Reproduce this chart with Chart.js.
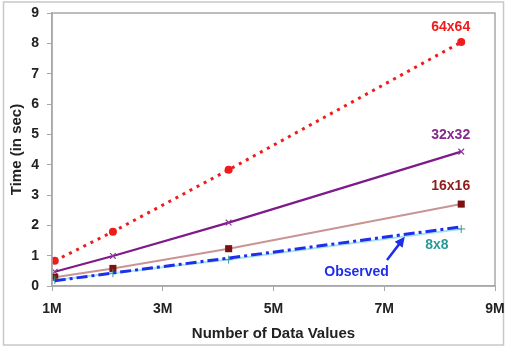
<!DOCTYPE html>
<html><head><meta charset="utf-8">
<script src="https://cdn.jsdelivr.net/npm/chart.js@4/dist/chart.umd.min.js"></script>
<style>html,body{margin:0;padding:0;background:#fff}#wrap{width:506px;height:349px}</style>
</head><body><div id="wrap"><canvas id="c" width="506" height="349"></canvas></div>
<script>
const dataSizesM = [1.05, 2.1, 4.19, 8.39];
const time64 = [0.83, 1.79, 3.83, 8.04];
const time32 = [0.47, 0.99, 2.09, 4.43];
const time16 = [0.29, 0.58, 1.23, 2.70];
const time8 = [0.20, 0.42, 0.87, 1.88];
const timeObserved = [0.17, 0.43, 0.92, 1.95];
const xTickLabels = ["1M", "3M", "5M", "7M", "9M"];
const xTickValues = [1, 3, 5, 7, 9];
const seriesNames = ["64x64", "32x32", "16x16", "8x8", "Observed"];

const pts = arr => arr.map((v, i) => ({x: dataSizesM[i], y: v}));
const FONT = "'Liberation Sans', Arial, sans-serif";

const labelPlugin = {
  id: 'labels',
  beforeDraw(chart) {
    const ctx = chart.ctx;
    ctx.save();
    ctx.fillStyle = '#fff';
    ctx.fillRect(0, 0, chart.width, chart.height);
    ctx.strokeStyle = '#c8c8c8';
    ctx.lineWidth = 1.5;
    ctx.strokeRect(3.5, 2, 500, 343);
    ctx.restore();
  },
  afterDatasetsDraw(chart) {
    const ctx = chart.ctx, xs = chart.scales.x, ys = chart.scales.y;
    const a = chart.chartArea;
    ctx.save();
    ctx.strokeStyle = '#a8a8a8';
    ctx.lineWidth = 1.5;
    ctx.strokeRect(a.left, a.top, a.right - a.left, a.bottom - a.top);
    const labels = [
      {t: seriesNames[0], x: 8.2, y: 8.55, c: '#f01c1c'},
      {t: seriesNames[1], x: 8.2, y: 4.98, c: '#862a8c'},
      {t: seriesNames[2], x: 8.2, y: 3.3, c: '#8e1c1c'},
      {t: seriesNames[3], x: 7.95, y: 1.35, c: '#2a9a96'},
      {t: seriesNames[4], x: 6.5, y: 0.46, c: '#1f2ee8'}
    ];
    ctx.font = "bold 14px " + FONT;
    ctx.textAlign = 'center';
    ctx.textBaseline = 'middle';
    labels.forEach(l => {
      ctx.fillStyle = l.c;
      ctx.fillText(l.t, xs.getPixelForValue(l.x), ys.getPixelForValue(l.y));
    });
    // arrow
    const x0 = xs.getPixelForValue(7.05), y0 = ys.getPixelForValue(0.86);
    const x1 = xs.getPixelForValue(7.37), y1 = ys.getPixelForValue(1.62);
    const ang = Math.atan2(y1 - y0, x1 - x0);
    ctx.strokeStyle = '#1f2ee8';
    ctx.fillStyle = '#1f2ee8';
    ctx.lineWidth = 2.5;
    ctx.beginPath();
    ctx.moveTo(x0, y0);
    ctx.lineTo(x1 - 6 * Math.cos(ang), y1 - 6 * Math.sin(ang));
    ctx.stroke();
    ctx.beginPath();
    ctx.moveTo(x1, y1);
    ctx.lineTo(x1 - 10 * Math.cos(ang) + 5 * Math.sin(ang), y1 - 10 * Math.sin(ang) - 5 * Math.cos(ang));
    ctx.lineTo(x1 - 10 * Math.cos(ang) - 5 * Math.sin(ang), y1 - 10 * Math.sin(ang) + 5 * Math.cos(ang));
    ctx.closePath();
    ctx.fill();
    ctx.restore();
  }
};

new Chart(document.getElementById('c'), {
  type: 'scatter',
  data: {
    datasets: [
      {label: seriesNames[4], data: pts(timeObserved), showLine: true, borderColor: '#1f2ee8', borderWidth: 3, borderDash: [11, 4, 3, 4], pointRadius: 0, order: 0},
      {label: seriesNames[3], data: pts(time8), showLine: true, borderColor: '#a6e4f2', borderWidth: 2, pointStyle: 'cross', pointRadius: 4, pointBorderColor: '#3a9a9a', pointBorderWidth: 1, order: 1},
      {label: seriesNames[2], data: pts(time16), showLine: true, borderColor: '#c99494', borderWidth: 2, pointStyle: 'rect', pointRadius: 5, pointBackgroundColor: '#7e1010', pointBorderColor: '#7e1010', pointBorderWidth: 0, order: 2},
      {label: seriesNames[1], data: pts(time32), showLine: true, borderColor: '#7e1a8a', borderWidth: 2.2, pointStyle: 'crossRot', pointRadius: 4, pointBorderColor: '#8e3a9a', pointBorderWidth: 1.2, order: 3},
      {label: seriesNames[0], data: pts(time64), showLine: true, borderColor: '#f01c1c', borderWidth: 3, borderDash: [3, 5], pointStyle: 'circle', pointRadius: 4, pointBackgroundColor: '#f01c1c', pointBorderColor: '#f01c1c', pointBorderWidth: 0, order: 4}
    ]
  },
  options: {
    responsive: false,
    animation: false,
    devicePixelRatio: 1,
    layout: {padding: {left: 4, right: 11, top: 13, bottom: 4}},
    plugins: {legend: {display: false}, tooltip: {enabled: false}},
    scales: {
      x: {
        type: 'linear', min: 1, max: 9,
        afterBuildTicks: s => { s.ticks = xTickValues.map(v => ({value: v})); },
        afterFit: s => { s.height = 59; s.paddingLeft = 0; s.paddingRight = 0; },
        ticks: {
          callback: (v) => xTickLabels[xTickValues.indexOf(v)],
          font: {family: FONT, size: 14, weight: 'bold'}, color: '#222', padding: 10, maxRotation: 0
        },
        grid: {display: true, drawOnChartArea: false, tickLength: 5, color: '#a8a8a8', lineWidth: 1},
        border: {display: true, color: '#a8a8a8', width: 1.5},
        title: {display: true, text: 'Number of Data Values', font: {family: FONT, size: 15, weight: 'bold'}, color: '#222', padding: {top: 4, bottom: 2}}
      },
      y: {
        type: 'linear', min: 0, max: 9,
        afterFit: s => { s.width = 48; s.paddingTop = 0; s.paddingBottom = 0; },
        ticks: {stepSize: 1, font: {family: FONT, size: 14, weight: 'bold'}, color: '#222', padding: 8},
        grid: {display: true, drawOnChartArea: false, tickLength: 5, color: '#a8a8a8', lineWidth: 1},
        border: {display: true, color: '#a8a8a8', width: 1.5},
        title: {display: true, text: 'Time (in sec)', font: {family: FONT, size: 15, weight: 'bold'}, color: '#222', padding: {top: 4, bottom: 0}}
      }
    }
  },
  plugins: [labelPlugin]
});
</script>
</body></html>
